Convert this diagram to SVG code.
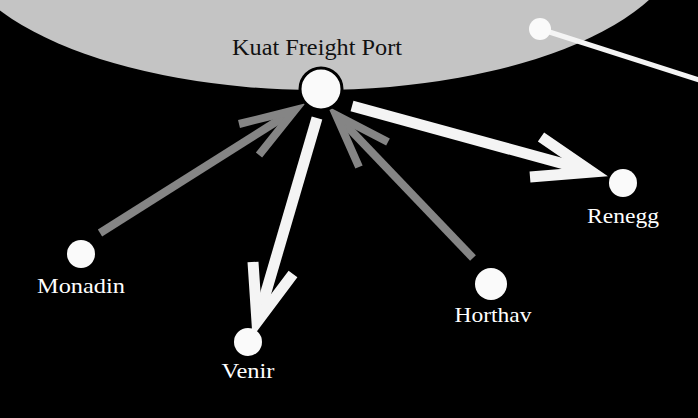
<svg xmlns="http://www.w3.org/2000/svg" width="698" height="418" viewBox="0 0 698 418">
<style>
.lbl{font-family:"Liberation Serif","Times New Roman",serif;font-size:21px;fill:#fff;text-anchor:middle}
.dark{fill:#111;font-size:23px}
.node{fill:#fafafa}
.w{fill:none;stroke:#f4f4f4;stroke-width:11;stroke-linejoin:miter;stroke-miterlimit:10}
.g{fill:none;stroke:#858585;stroke-width:8;stroke-linejoin:miter;stroke-miterlimit:10}
</style>
<rect width="698" height="418" fill="#000"/>
<ellipse id="region" cx="318" cy="-70" rx="368" ry="160" fill="#c4c4c4"/>
<g id="connectors">
<line x1="540" y1="29" x2="702" y2="81" stroke="#f4f4f4" stroke-width="5"/>
<path class="w" d="M317 118 L259 316"/>
<path class="w" d="M253 262 L257 322 L293 274"/>
<path class="w" d="M352 106 L586 170"/>
<path class="w" d="M541 137 L592 172 L530 177"/>
<path class="g" d="M100 233 L290 113"/>
<path class="g" d="M239 124 L295 110 L259 155"/>
<path class="g" d="M473 258 L340 119"/>
<path class="g" d="M359 167 L336 115 L388 142"/>
</g>
<g id="kuat">
<circle cx="321" cy="89" r="21" class="node" stroke="#000" stroke-width="3"/>
<text class="lbl dark" x="317" y="55" textLength="170" lengthAdjust="spacingAndGlyphs">Kuat Freight Port</text>
</g>
<g id="far">
<circle cx="540" cy="29" r="11" class="node"/>
</g>
<g id="monadin">
<circle cx="81" cy="254" r="14" class="node"/>
<text class="lbl" x="81" y="293" textLength="88" lengthAdjust="spacingAndGlyphs">Monadin</text>
</g>
<g id="venir">
<circle cx="248" cy="342" r="14" class="node"/>
<text class="lbl" x="248" y="378" textLength="53" lengthAdjust="spacingAndGlyphs">Venir</text>
</g>
<g id="horthav">
<circle cx="491" cy="284" r="16" class="node"/>
<text class="lbl" x="493" y="322" textLength="77" lengthAdjust="spacingAndGlyphs">Horthav</text>
</g>
<g id="renegg">
<circle cx="623" cy="183" r="14" class="node"/>
<text class="lbl" x="623" y="223" textLength="72" lengthAdjust="spacingAndGlyphs">Renegg</text>
</g>
</svg>
